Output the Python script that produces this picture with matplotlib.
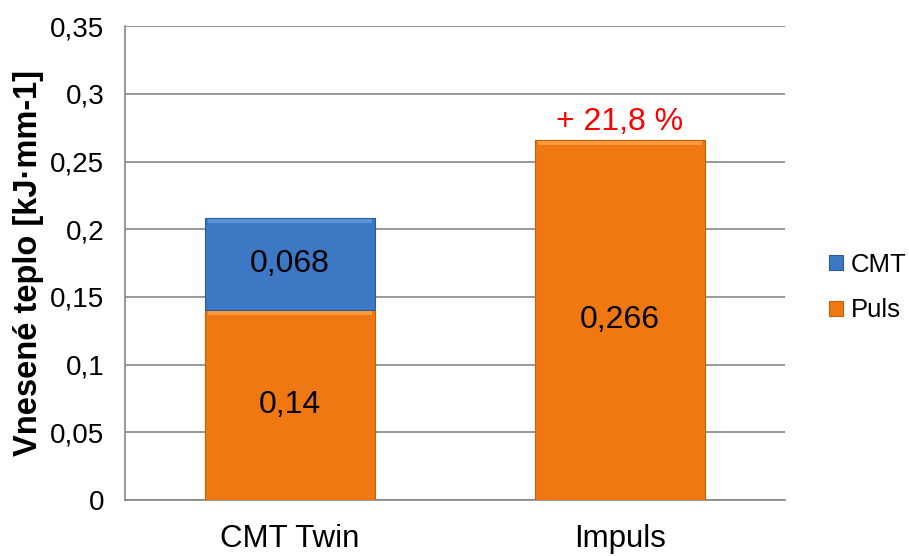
import matplotlib
matplotlib.use("Agg")
import matplotlib.pyplot as plt
import numpy as np

categories = ["CMT Twin", "Impuls"]
puls = [0.14, 0.266]
cmt = [0.068, 0.0]
yticks = [0, 0.05, 0.1, 0.15, 0.2, 0.25, 0.3, 0.35]
ytick_labels = ["0", "0,05", "0,1", "0,15", "0,2", "0,25", "0,3", "0,35"]
puls_labels = ["0,14", "0,266"]
cmt_labels = ["0,068", ""]
note = "+ 21,8 %"

plt.rcParams['font.family'] = ['Liberation Sans', 'DejaVu Sans']

fig = plt.figure(figsize=(9.09, 5.56), dpi=100)
ax = fig.add_axes([0.1375, 0.1007, 0.726, 0.8523])

orange = "#F07812"
blue = "#3C78C3"
x = np.arange(len(categories))
w = 0.515

b1 = ax.bar(x, puls, w, color=orange, edgecolor="#C85F08", linewidth=0.8, label="Puls", zorder=3)
b2 = ax.bar(x, cmt, w, bottom=puls, color=blue, edgecolor="#2A5A98", linewidth=0.8, label="CMT", zorder=3)
b2[1].set_visible(False)

# subtle bevel highlight on top
for xi, base, h, c in [(0, 0, puls[0], "#FB9A3C"), (0, puls[0], cmt[0], "#5A93DA"), (1, 0, puls[1], "#FB9A3C")]:
    ax.bar(xi, 0.003, w * 0.96, bottom=base + h - 0.0035, color=c, linewidth=0, zorder=4)

for i in range(len(categories)):
    ax.text(x[i], puls[i] / 2, puls_labels[i], ha="center", va="center", fontsize=23, zorder=5)
    if cmt[i] > 0:
        ax.text(x[i], puls[i] + cmt[i] / 2, cmt_labels[i], ha="center", va="center", fontsize=23, zorder=5)

ax.text(x[1], puls[1] + 0.002, note, ha="center", va="bottom", fontsize=23, color="#FF0000", zorder=5)

ax.set_xlim(-0.5, 1.5)
ax.set_ylim(0, 0.35)
ax.set_yticks(yticks)
ax.set_yticklabels(ytick_labels, fontsize=20)
ax.set_xticks(x)
ax.set_xticklabels(categories, fontsize=22.5)
ax.tick_params(axis="y", length=0, pad=15)
ax.tick_params(axis="x", length=0, pad=17)
ax.yaxis.grid(True, color="#868686", linewidth=1.2, zorder=0)
for s in ["top", "right"]:
    ax.spines[s].set_visible(False)
for s in ["left", "bottom"]:
    ax.spines[s].set_color("#868686")
    ax.spines[s].set_linewidth(1.2)

ax.set_ylabel("Vnesené teplo [kJ·mm-1]", fontsize=23.5, fontweight="bold", labelpad=4)

h, l = ax.get_legend_handles_labels()
leg = fig.legend([h[1], h[0]], ["CMT", "Puls"], loc="center left", bbox_to_anchor=(0.8865, 0.483),
                 frameon=False, fontsize=18.5, handlelength=0.55, handleheight=0.55, labelspacing=0.85, handletextpad=0.3)

fig.savefig("out.png", dpi=100)
